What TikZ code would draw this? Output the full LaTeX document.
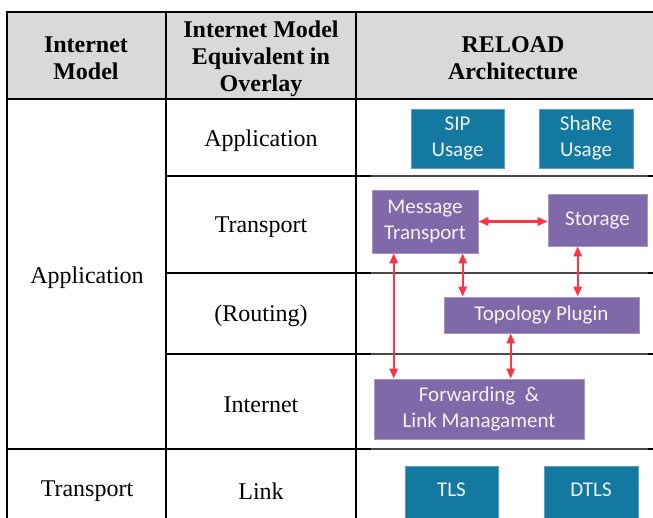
\documentclass[tikz,border=0pt]{standalone}
\usepackage{fontspec}
\setmainfont{Liberation Serif}
\newfontfamily\boxfont{Carlito}
\usetikzlibrary{arrows.meta,calc}
\definecolor{hdrgray}{HTML}{D9D9D9}
\definecolor{tealbox}{HTML}{1479A1}
\definecolor{purplebox}{HTML}{8069A8}
\definecolor{arrred}{HTML}{FF3344}
\definecolor{gridgray}{HTML}{4A4A4A}
\tikzset{
  tbl/.style={line width=2pt,black},
  sub/.style={line width=1.5pt,gridgray},
  hdr/.style={font=\fontsize{24}{27}\selectfont\bfseries,align=center,text=black},
  cell/.style={font=\fontsize{24}{27}\selectfont,align=center,text=black},
  boxtext/.style={font=\boxfont\fontsize{21}{26}\selectfont,align=center},
  tealnode/.style={fill=tealbox,draw=tealbox!70!white,line width=0.6pt,text=white!92!tealbox,boxtext,inner sep=0pt},
  purplenode/.style={fill=purplebox,draw=purplebox!70!white,line width=0.6pt,text=white!92!purplebox,boxtext,inner sep=0pt},
  arr/.style={arrred,line width=2.4pt,{Triangle[length=10pt,width=8pt]}-{Triangle[length=10pt,width=8pt]}}
}
\begin{document}
\begin{tikzpicture}[x=1pt,y=-1pt]
\useasboundingbox (0,0) rectangle (653,518);
\clip (0,0) rectangle (653,518);
% header
\fill[hdrgray] (7,12) rectangle (660,99);
\draw[tbl] (7,12) -- (660,12);
\draw[tbl] (7,99) -- (660,99);
% verticals
\draw[tbl] (7,11) -- (7,525);
\draw[tbl] (166,11) -- (166,525);
\draw[tbl] (356,11) -- (356,525);
% row lines
\foreach \yy in {176,273,354} {
  \draw[tbl] (166,\yy) -- (371,\yy);
  \draw[sub] (371,\yy) -- (648,\yy);
  \draw[tbl] (648,\yy) -- (660,\yy);
}
\draw[tbl] (7,449) -- (371,449);
\draw[sub] (371,449) -- (648,449);
\draw[tbl] (648,449) -- (660,449);
% header text
\node[hdr] (h1) at (86,58.5) {Internet\\Model};
\node[hdr] (h2) at (261,58.5) {Internet Model\\Equivalent in\\Overlay};
\node[hdr] (h3) at (513,58.5) {RELOAD\\Architecture};
% cells
\node[cell] (c1a) at (87,278) {Application};
\node[cell] (c1t) at (87,491) {Transport};
\node[cell] (c2a) at (261,141) {Application};
\node[cell] (c2t) at (261,227) {Transport};
\node[cell] (c2r) at (261,316) {(Routing)};
\node[cell] (c2i) at (261,405) {Internet};
\node[cell] (c2l) at (261,491) {Link};
% RELOAD boxes
\node[tealnode,minimum width=93pt,minimum height=59pt] (sip) at (457.5,138.5) {SIP\\Usage};
\node[tealnode,minimum width=94pt,minimum height=59pt] (share) at (586,138.5) {ShaRe\\Usage};
\node[purplenode,minimum width=106pt,minimum height=63pt] (mt) at (425,221.5) {Message\\Transport};
\node[purplenode,minimum width=99pt,minimum height=52pt] (st) at (597.5,220) {Storage};
\node[purplenode,minimum width=195pt,minimum height=36pt] (tp) at (541.5,315) {Topology Plugin};
\node[purplenode,minimum width=210pt,minimum height=60pt] (fw) at (479,409) {Forwarding\ \ \&\\Link Managament};
\node[tealnode,minimum width=93pt,minimum height=68pt] (tls) at (451.5,500) {};
\node[tealnode,minimum width=94pt,minimum height=68pt] (dtls) at (591,500) {};
\node[text=white!92!tealbox,boxtext] (tlst) at (451.5,490) {TLS};
\node[text=white!92!tealbox,boxtext] (dtlst) at (591,490) {DTLS};
% arrow anchor points
\coordinate (a1) at ($(mt.south west)+(22,0)$);
\coordinate (a2) at ($(mt.south west)+(91,0)$);
\coordinate (a3) at ($(st.south west)+(30,0)$);
\coordinate (a4) at ($(tp.south west)+(67,0)$);
% arrows
\draw[arr] (mt.east) -- (mt.east -| st.west);
\draw[arr] (a1) -- (a1 |- fw.north);
\draw[arr] (a2) -- (a2 |- tp.north);
\draw[arr] (a3) -- (a3 |- tp.north);
\draw[arr] (a4) -- (a4 |- fw.north);
\end{tikzpicture}
\end{document}
